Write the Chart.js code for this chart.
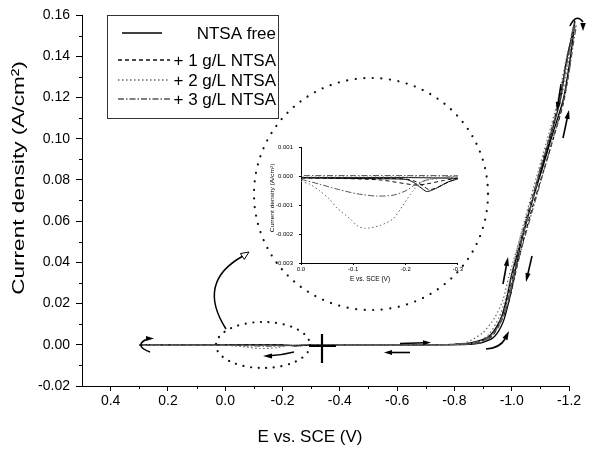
<!DOCTYPE html>
<html><head><meta charset="utf-8">
<script src="https://cdn.jsdelivr.net/npm/chart.js@4.4.0/dist/chart.umd.min.js"></script>
<style>
html,body{margin:0;padding:0;background:#fff;}
#wrap{position:relative;width:604px;height:450px;background:#fff;}
#main{position:absolute;left:0;top:0;}
#inset{position:absolute;left:262px;top:138px;}
</style></head>
<body><div id="wrap"><canvas id="main" width="604" height="450"></canvas><canvas id="inset" width="202" height="150"></canvas></div>
<script>
const FONT = "'Liberation Sans', Arial, Helvetica, sans-serif";

// ---------- series names ----------
const seriesNames = ['NTSA free', '+ 1 g/L NTSA', '+ 2 g/L NTSA', '+ 3 g/L NTSA'];

// ---------- main chart data (E vs SCE in V, current density in A/cm2) ----------
const E_free = [0.30, 0.00, -0.10, -0.20, -0.24, -0.30, -0.50, -0.70, -0.80, -0.86, -0.92, -0.96, -0.98, -1.00, -1.04, -1.07, -1.11, -1.14, -1.18, -1.20, -1.215, -1.22, -1.215, -1.19, -1.17, -1.135, -1.10, -1.06, -1.03, -1.01, -0.99, -0.97, -0.94, -0.90, -0.85, -0.70, -0.50, -0.34];
const j_free = [0, -0.00005, -0.00007, -0.0001, -0.0005, -0.0001, 0, 0, 0.0002, 0.001, 0.004, 0.012, 0.021, 0.034, 0.054, 0.069, 0.087, 0.101, 0.119, 0.135, 0.150, 0.157, 0.153, 0.137, 0.119, 0.101, 0.084, 0.064, 0.048, 0.034, 0.021, 0.011, 0.004, 0.0012, 0.0002, 0, 0, 0];

const E_1 = [0.30, 0.00, -0.10, -0.20, -0.245, -0.30, -0.50, -0.70, -0.80, -0.87, -0.93, -0.965, -0.99, -1.01, -1.045, -1.075, -1.115, -1.145, -1.18, -1.20, -1.21, -1.215, -1.21, -1.19, -1.165, -1.13, -1.095, -1.055, -1.025, -1.005, -0.985, -0.96, -0.93, -0.89, -0.84, -0.70, -0.50, -0.34];
const j_1 = [0, -0.00005, -0.00006, -0.0001, -0.00045, -0.0001, 0, 0, 0.0002, 0.001, 0.004, 0.012, 0.021, 0.033, 0.053, 0.068, 0.086, 0.100, 0.117, 0.133, 0.146, 0.154, 0.150, 0.136, 0.118, 0.100, 0.083, 0.063, 0.047, 0.034, 0.022, 0.012, 0.005, 0.0015, 0.0003, 0, 0, 0];

const E_2 = [0.30, 0.00, -0.06, -0.12, -0.18, -0.22, -0.30, -0.50, -0.70, -0.78, -0.84, -0.90, -0.94, -0.97, -0.99, -1.03, -1.065, -1.10, -1.135, -1.17, -1.195, -1.21, -1.22, -1.21, -1.185, -1.16, -1.125, -1.09, -1.05, -1.02, -1.00, -0.98, -0.955, -0.92, -0.88, -0.82, -0.70, -0.50, -0.34];
const j_2 = [0, -0.0002, -0.0009, -0.0018, -0.0014, -0.0003, 0, 0, 0, 0.0001, 0.001, 0.006, 0.013, 0.022, 0.033, 0.052, 0.068, 0.085, 0.101, 0.118, 0.134, 0.148, 0.156, 0.151, 0.135, 0.118, 0.100, 0.083, 0.063, 0.047, 0.035, 0.023, 0.013, 0.005, 0.0015, 0.0002, 0, 0, 0];

const E_3 = [0.30, 0.00, -0.07, -0.145, -0.20, -0.245, -0.30, -0.50, -0.70, -0.80, -0.86, -0.91, -0.95, -0.98, -1.00, -1.035, -1.07, -1.105, -1.14, -1.175, -1.20, -1.215, -1.225, -1.215, -1.195, -1.17, -1.135, -1.10, -1.065, -1.03, -1.01, -0.99, -0.965, -0.935, -0.90, -0.85, -0.70, -0.50, -0.34];
const j_3 = [0, -0.0001, -0.00044, -0.00068, -0.0005, -0.0001, 0, 0, 0, 0.0001, 0.0008, 0.003, 0.008, 0.017, 0.028, 0.047, 0.064, 0.081, 0.098, 0.115, 0.132, 0.146, 0.155, 0.152, 0.138, 0.120, 0.102, 0.085, 0.066, 0.049, 0.036, 0.024, 0.013, 0.005, 0.0015, 0.0003, 0, 0, 0];

// ---------- inset data (0 to -0.3 V) ----------
const insE_free = [0, -0.05, -0.10, -0.15, -0.20, -0.215, -0.23, -0.24, -0.25, -0.265, -0.28, -0.30, -0.25, -0.20, -0.10, 0];
const insJ_free = [-0.00005, -0.00006, -0.00007, -0.00008, -0.0001, -0.0002, -0.0004, -0.00052, -0.00048, -0.00035, -0.0002, -0.00008, -0.00005, -0.00004, -0.00004, -0.00004];
const insE_1 = [0, -0.05, -0.10, -0.15, -0.20, -0.22, -0.235, -0.245, -0.255, -0.27, -0.285, -0.30, -0.27, -0.24, -0.22, -0.15, -0.05, 0];
const insJ_1 = [-0.00004, -0.00005, -0.00006, -0.00007, -0.00009, -0.00018, -0.00035, -0.00046, -0.00042, -0.0003, -0.00017, -0.00006, -0.00015, -0.00026, -0.0003, -0.00012, -0.00006, -0.00005];
const insE_2 = [0, -0.017, -0.036, -0.055, -0.069, -0.094, -0.107, -0.122, -0.151, -0.176, -0.195, -0.214, -0.233, -0.26, -0.30, -0.25, -0.15, -0.05, 0];
const insJ_2 = [-0.00017, -0.00027, -0.0005, -0.0008, -0.0011, -0.00147, -0.0017, -0.0018, -0.0017, -0.00147, -0.001, -0.0005, -0.00017, -0.00008, -0.00003, -0.00002, -0.00002, -0.00002, -0.00002];
const insE_3 = [0, -0.036, -0.069, -0.107, -0.145, -0.176, -0.20, -0.22, -0.245, -0.27, -0.30, -0.20, -0.10, 0];
const insJ_3 = [-0.0001, -0.00027, -0.00044, -0.0006, -0.00068, -0.00065, -0.0005, -0.00027, -0.0001, -0.00004, 0.00002, 0.00003, 0.00003, 0.00003];

// ---------- axes / ticks ----------
const xTitle = 'E vs. SCE (V)';
const yTitle = 'Current density (A/cm²)';
const xTicks = [0.4, 0.2, 0.0, -0.2, -0.4, -0.6, -0.8, -1.0, -1.2];
const yTicks = [-0.02, 0.00, 0.02, 0.04, 0.06, 0.08, 0.10, 0.12, 0.14, 0.16];
const minorX = [-1.1, -0.9, -0.7, -0.5, -0.3, -0.1, 0.1, 0.3];
const minorY = [-0.01, 0.01, 0.03, 0.05, 0.07, 0.09, 0.11, 0.13, 0.15];
const insXTicks = [0.0, -0.1, -0.2, -0.3];
const insYTicks = [0.001, 0.000, -0.001, -0.002, -0.003];

// ---------- styles ----------
const styles = [
  {color:'#000', dash:[], width:1.3},
  {color:'#111', dash:[4,3], width:1.2},
  {color:'#666', dash:[1.5,2.5], width:1.2},
  {color:'#555', dash:[6,2,1.5,2], width:1.2}
];

function zip(E, J){ const n = Math.min(E.length, J.length); const out=[]; for(let i=0;i<n;i++) out.push({x:E[i], y:J[i]}); return out; }
function fmt(v,d){ return (Math.abs(v) < 1e-9 ? 0 : v).toFixed(d); }
function setTicks(arr){ return s => { s.ticks = arr.map(v => ({value:v})); }; }

function makeSets(pairs, lw){
  const order = [2,3,1,0];
  return order.map(i => ({
    label: seriesNames[i], data: zip(pairs[i][0], pairs[i][1]),
    showLine:true, pointRadius:0, borderColor:styles[i].color, borderDash:styles[i].dash,
    borderWidth: lw || styles[i].width, tension:0.25, clip:false, fill:false
  }));
}

function arrow(ctx, x1,y1,x2,y2, L, W){
  L = L||7; W = W||2.6;
  const a = Math.atan2(y2-y1, x2-x1);
  ctx.beginPath(); ctx.moveTo(x1,y1); ctx.lineTo(x2-L*0.7*Math.cos(a), y2-L*0.7*Math.sin(a)); ctx.stroke();
  ctx.beginPath(); ctx.moveTo(x2,y2);
  ctx.lineTo(x2-L*Math.cos(a)+W*Math.sin(a), y2-L*Math.sin(a)-W*Math.cos(a));
  ctx.lineTo(x2-L*Math.cos(a)-W*Math.sin(a), y2-L*Math.sin(a)+W*Math.cos(a));
  ctx.closePath(); ctx.fill();
}
function head(ctx, x2,y2, a, L, W, hollow){
  ctx.beginPath(); ctx.moveTo(x2,y2);
  ctx.lineTo(x2-L*Math.cos(a)+W*Math.sin(a), y2-L*Math.sin(a)-W*Math.cos(a));
  ctx.lineTo(x2-L*Math.cos(a)-W*Math.sin(a), y2-L*Math.sin(a)+W*Math.cos(a));
  ctx.closePath(); if(hollow){ctx.fillStyle='#fff'; ctx.fill(); ctx.stroke(); ctx.fillStyle='#000';} else ctx.fill();
}
function dottedEllipse(ctx, cx, cy, rx, ry, gap){
  ctx.save(); ctx.setLineDash([0.1, gap]); ctx.lineCap='round'; ctx.lineWidth=2.2; ctx.strokeStyle='#111';
  ctx.beginPath(); ctx.ellipse(cx, cy, rx, ry, 0, 0, Math.PI*2); ctx.stroke(); ctx.restore();
}

const mainPlugin = {
  id:'mainDeco',
  afterDraw(chart){
    const ctx = chart.ctx, ca = chart.chartArea, xs = chart.scales.x, ys = chart.scales.y;
    ctx.save();
    ctx.strokeStyle='#000'; ctx.fillStyle='#000'; ctx.lineWidth=1;
    // minor ticks
    minorX.forEach(v => { const p = Math.round(xs.getPixelForValue(v))+0.5; ctx.beginPath(); ctx.moveTo(p, ca.bottom); ctx.lineTo(p, ca.bottom+3); ctx.stroke(); });
    minorY.forEach(v => { const p = Math.round(ys.getPixelForValue(v))+0.5; ctx.beginPath(); ctx.moveTo(ca.left, p); ctx.lineTo(ca.left-3, p); ctx.stroke(); });
    // axis titles
    ctx.font = '17px ' + FONT; ctx.textAlign='center'; ctx.textBaseline='middle';
    ctx.fillText(xTitle, 310, 437);
    ctx.save(); ctx.translate(19, 178); ctx.rotate(-Math.PI/2); ctx.scale(1.33, 1); ctx.fillText(yTitle, 0, 0); ctx.restore();
    // legend
    ctx.save();
    ctx.strokeStyle='#333'; ctx.lineWidth=1; ctx.strokeRect(107.5, 15.5, 171, 103);
    const rowsY = [33, 60, 80, 99];
    ctx.font = '17px ' + FONT; ctx.textAlign='right'; ctx.textBaseline='middle';
    for (let i=0;i<4;i++){
      ctx.save(); ctx.strokeStyle=styles[i].color; ctx.lineWidth=1.3; ctx.setLineDash(styles[i].dash);
      ctx.beginPath(); ctx.moveTo(i===0?122:118, rowsY[i]); ctx.lineTo(i===0?162:170, rowsY[i]); ctx.stroke(); ctx.restore();
      ctx.fillStyle='#000'; ctx.fillText(seriesNames[i], 276, rowsY[i]+1);
    }
    ctx.restore();
    // zoom circles
    dottedEllipse(ctx, 263, 345, 47, 23, 7.5);
    dottedEllipse(ctx, 371, 194, 117, 116, 8.5);
    // curved pointer to inset
    ctx.lineWidth=1.5;
    ctx.beginPath(); ctx.moveTo(226, 329); ctx.quadraticCurveTo(196, 282, 243, 256); ctx.stroke();
    ctx.lineWidth=1; head(ctx, 249, 252, Math.atan2(-4, 6), 8, 3.5, true);
    // cross (start potential)
    ctx.lineWidth=2.2;
    ctx.beginPath(); ctx.moveTo(322, 334); ctx.lineTo(322, 363); ctx.moveTo(309, 346); ctx.lineTo(336, 346); ctx.stroke();
    ctx.lineWidth=1.6;
    // arrows along baseline
    arrow(ctx, 400, 343.5, 431, 342.5, 8, 2.5);
    arrow(ctx, 410, 352.5, 384, 352.5, 8, 2.5);
    ctx.beginPath(); ctx.moveTo(294, 352); ctx.quadraticCurveTo(282, 355, 272, 355.5); ctx.stroke();
    head(ctx, 263, 356, Math.PI, 9, 2.6);
    // arrows along the rise
    arrow(ctx, 503, 284, 508, 257, 9, 2.6);
    arrow(ctx, 532, 256, 526, 282, 9, 2.6);
    arrow(ctx, 561, 84, 557, 111, 9, 2.6);
    arrow(ctx, 563, 138, 569, 110, 9, 2.6);
    // bottom curved arrow
    ctx.beginPath(); ctx.moveTo(486, 349); ctx.quadraticCurveTo(500, 348, 505, 339); ctx.stroke();
    head(ctx, 509, 331, Math.atan2(-8, 4), 9, 2.8);
    // top curl
    ctx.beginPath(); ctx.moveTo(570, 26); ctx.quadraticCurveTo(576, 13, 583, 22); ctx.stroke();
    head(ctx, 583, 31, Math.PI/2, 8, 2.8);
    // left curl
    ctx.beginPath(); ctx.moveTo(150, 352); ctx.quadraticCurveTo(134, 346, 146, 339.5); ctx.stroke();
    head(ctx, 154, 338.5, 0, 8, 2.6);
    ctx.restore();
  }
};

const mainPairs = [[E_free,j_free],[E_1,j_1],[E_2,j_2],[E_3,j_3]];
new Chart(document.getElementById('main'), {
  type:'scatter',
  data:{ datasets: makeSets(mainPairs) },
  options:{
    responsive:false, animation:false, events:[],
    layout:{ padding:{ left:0, top:15, right:35, bottom:0 } },
    plugins:{ legend:{display:false}, tooltip:{enabled:false} },
    scales:{
      x:{ type:'linear', reverse:true, min:-1.2, max:0.5,
          afterBuildTicks: setTicks(xTicks),
          afterFit: s => { s.height = 64; },
          ticks:{ autoSkip:false, maxRotation:0, color:'#000', padding:2,
                  font:{ family:FONT, size:14 }, callback: v => fmt(v,1) },
          grid:{ drawOnChartArea:false, drawTicks:true, tickLength:5, color:'#000', lineWidth:1 },
          border:{ display:true, color:'#000', width:1 },
          title:{ display:false } },
      y:{ type:'linear', min:-0.02, max:0.16,
          afterBuildTicks: setTicks(yTicks),
          afterFit: s => { s.width = 82; },
          ticks:{ autoSkip:false, color:'#000', padding:6,
                  font:{ family:FONT, size:14 }, callback: v => fmt(v,2) },
          grid:{ drawOnChartArea:false, drawTicks:true, tickLength:6, color:'#000', lineWidth:1 },
          border:{ display:true, color:'#000', width:1 },
          title:{ display:false } }
    }
  },
  plugins:[mainPlugin]
});

// ---------- inset ----------
const insetPlugin = {
  id:'insetDeco',
  afterDraw(chart){
    const ctx = chart.ctx;
    ctx.save(); ctx.fillStyle='#000'; ctx.textAlign='center'; ctx.textBaseline='middle';
    ctx.font = '6.5px ' + FONT;
    ctx.fillText(xTitle, 108, 141);
    ctx.font = '5px ' + FONT;
    ctx.save(); ctx.translate(11, 60); ctx.rotate(-Math.PI/2); ctx.scale(1.33,1); ctx.fillText(yTitle, 0, 0); ctx.restore();
    ctx.restore();
  }
};
const insPairs = [[insE_free,insJ_free],[insE_1,insJ_1],[insE_2,insJ_2],[insE_3,insJ_3]];
new Chart(document.getElementById('inset'), {
  type:'scatter',
  data:{ datasets: makeSets(insPairs, 1) },
  options:{
    responsive:false, animation:false, events:[],
    layout:{ padding:{ left:0, top:7, right:6, bottom:0 } },
    plugins:{ legend:{display:false}, tooltip:{enabled:false} },
    scales:{
      x:{ type:'linear', reverse:true, min:-0.3, max:0,
          afterBuildTicks: setTicks(insXTicks),
          afterFit: s => { s.height = 25; },
          ticks:{ autoSkip:false, maxRotation:0, color:'#000', padding:1,
                  font:{ family:FONT, size:6 }, callback: v => fmt(v,1) },
          grid:{ drawOnChartArea:false, drawTicks:true, tickLength:2, color:'#000', lineWidth:1 },
          border:{ display:true, color:'#000', width:1 } },
      y:{ type:'linear', min:-0.003, max:0.001,
          afterBuildTicks: setTicks(insYTicks),
          afterFit: s => { s.width = 39; },
          ticks:{ autoSkip:false, color:'#000', padding:6,
                  font:{ family:FONT, size:6 }, callback: v => fmt(v,3) },
          grid:{ drawOnChartArea:false, drawTicks:true, tickLength:2, color:'#000', lineWidth:1 },
          border:{ display:true, color:'#000', width:1 } }
    }
  },
  plugins:[insetPlugin]
});
</script>
</body></html>
